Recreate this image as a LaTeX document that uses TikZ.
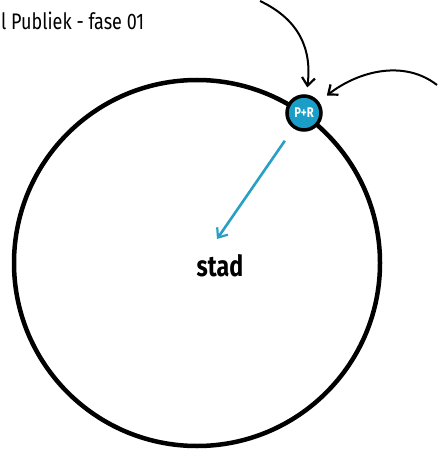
\documentclass[tikz,border=0pt]{standalone}
\usepackage{fontspec}
\setmainfont{Fira Sans}
\newfontfamily\condfont{Fira Sans}[FakeStretch=0.8]
\usetikzlibrary{positioning,arrows.meta,calc}
\definecolor{prblue}{HTML}{1A9DC6}
\definecolor{arrblue}{HTML}{2A9FC4}

\begin{document}
\begin{tikzpicture}[x=1pt, y=-1pt,
  ring/.style={draw, line width=4.5pt},
  prnode/.style={circle, draw, line width=3.5pt, fill=prblue, minimum size=34pt, inner sep=0pt, text=white, font=\condfont\bfseries\fontsize{14}{14}\selectfont},
  arr/.style={-{Straight Barb[length=8pt, width=13pt, line width=2.2pt]}, line width=2pt},
  barr/.style={arr, draw=arrblue, line width=2.6pt},
  tline/.style={font=\condfont\fontsize{22.5}{22.5}\selectfont},
]
\useasboundingbox (0,0) rectangle (437,449);
% city ring
\node[ring, circle, minimum size=366pt, inner sep=0pt] (ring) at (197,263) {};
\node[font=\condfont\bfseries\fontsize{29}{29}\selectfont] (stad) at (220,266) {stad};
\node[prnode] (pr) at (304,113) {P+R};
\node[tline, anchor=west, inner sep=0pt] (title) at (1,21) {l Publiek - fase 01};
% incoming traffic
\coordinate (in1) at (260,1);
\coordinate (in2) at (437,85);
\coordinate (out) at (217,239);
\draw[arr, shorten >=7pt] (in1) .. controls (300,20) and (312,50) .. (pr);
\draw[arr, shorten >=10pt] (in2) .. controls (405,60) and (360,70) .. (pr);
\draw[barr, shorten <=15pt] (pr) -- (out);
\end{tikzpicture}
\end{document}
